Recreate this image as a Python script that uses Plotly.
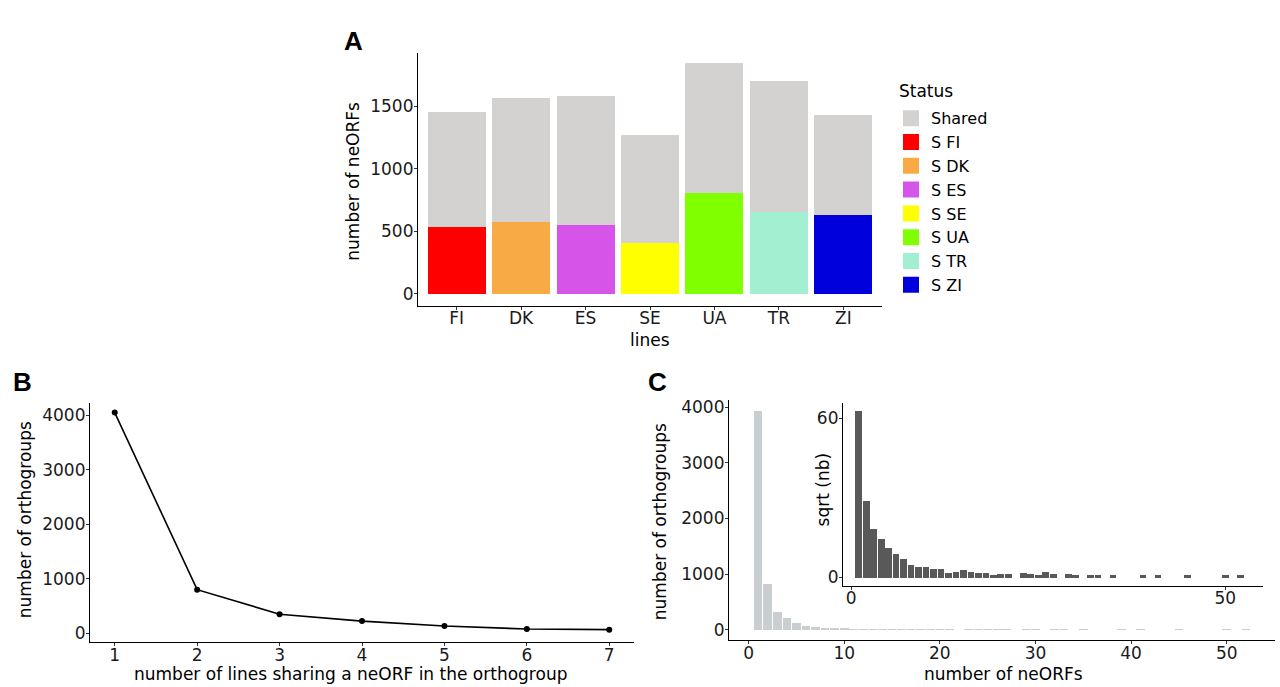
import plotly.graph_objects as go

# ---------------- data ----------------
# Panel A
lines = ["FI", "DK", "ES", "SE", "UA", "TR", "ZI"]
specific = [532, 577, 555, 405, 806, 657, 628]
shared = [925, 992, 1025, 864, 1038, 1045, 806]
status_labels = ["Shared", "S FI", "S DK", "S ES", "S SE", "S UA", "S TR", "S ZI"]
status_colors = ["#d3d2d0", "#ff0000", "#f8ab45", "#d654e8", "#ffff00",
                 "#7fff00", "#a2f0d1", "#0000dc"]

# Panel B
n_lines_sharing = [1, 2, 3, 4, 5, 6, 7]
n_orthogroups = [4045, 800, 350, 224, 133, 79, 67]

# Panel C
n_neorfs = list(range(1, 53))
n_groups = [3930, 830, 328, 215, 120, 76, 48, 23, 16, 15,
            10, 10, 3, 5, 7, 5, 3, 3, 1, 2,
            2, 0, 3, 2, 1, 4, 2, 0, 2, 1,
            0, 1, 1, 0, 1, 0, 0, 0, 1, 0,
            1, 0, 0, 0, 1, 0, 0, 0, 0, 1,
            0, 1]
sqrt_groups = [v ** 0.5 for v in n_groups]

W, H = 1280, 687
FONT = "DejaVu Sans"
TICKC = "#1a1a1a"


def px_x(x):
    return x / W


def px_y(y):
    return 1 - y / H


fig = go.Figure()

# ---- Panel A: stacked bars ----
for i, ln in enumerate(lines):
    fig.add_trace(go.Bar(x=[ln], y=[specific[i]], marker_color=status_colors[i + 1],
                         marker_line_width=0, showlegend=False,
                         xaxis="x", yaxis="y", width=0.9))
fig.add_trace(go.Bar(x=lines, y=shared, marker_color=status_colors[0],
                     marker_line_width=0, showlegend=False,
                     xaxis="x", yaxis="y", width=0.9))
# legend entries
for k, (lab, col) in enumerate(zip(status_labels, status_colors)):
    fig.add_trace(go.Scatter(x=[None], y=[None], mode="markers", name=lab,
                             marker=dict(symbol="square", size=16, color=col),
                             xaxis="x", yaxis="y", showlegend=True, legendrank=k + 1))

# ---- Panel B: line ----
fig.add_trace(go.Scatter(x=n_lines_sharing, y=n_orthogroups, mode="lines+markers",
                         line=dict(color="black", width=1.6),
                         marker=dict(color="black", size=6),
                         showlegend=False, xaxis="x2", yaxis="y2"))

# ---- Panel C: histogram ----
fig.add_trace(go.Bar(x=n_neorfs, y=n_groups, marker_color="#c9cfd1",
                     marker_line_width=0, width=0.9, showlegend=False,
                     xaxis="x3", yaxis="y3"))
# ---- Panel C inset ----
fig.add_trace(go.Bar(x=n_neorfs, y=sqrt_groups, marker_color="#595959",
                     marker_line_width=0, width=0.9, showlegend=False,
                     xaxis="x4", yaxis="y4"))

axis_common = dict(showline=True, linecolor="black", linewidth=1.2,
                   ticks="outside", ticklen=3, tickcolor="#333333", tickwidth=1.1,
                   showgrid=False, zeroline=False,
                   tickfont=dict(family=FONT, size=17, color=TICKC))
xax = dict(ticklabelstandoff=-6, **axis_common)
yax = dict(ticklabelstandoff=-3, **axis_common)

fig.update_layout(
    width=W, height=H,
    margin=dict(l=0, r=0, t=0, b=0),
    paper_bgcolor="white", plot_bgcolor="rgba(0,0,0,0)",
    barmode="stack",
    font=dict(family=FONT, size=17, color="black"),
    xaxis=dict(domain=[px_x(418), px_x(882)], anchor="y", type="category",
               range=[-0.6, 6.6], **xax),
    yaxis=dict(domain=[px_y(305), px_y(50)], anchor="x", range=[-95, 1930],
               tickvals=[0, 500, 1000, 1500], **yax),
    xaxis2=dict(domain=[px_x(90), px_x(634)], anchor="y2", range=[0.7, 7.3],
                tickvals=n_lines_sharing, **xax),
    yaxis2=dict(domain=[px_y(644), px_y(403)], anchor="x2", range=[-165, 4220],
                tickvals=[0, 1000, 2000, 3000, 4000], **yax),
    xaxis3=dict(domain=[px_x(729), px_x(1275)], anchor="y3", range=[-2.05, 55.05],
                tickvals=[0, 10, 20, 30, 40, 50], **xax),
    yaxis3=dict(domain=[px_y(642), px_y(400)], anchor="x3", range=[-190, 4130],
                tickvals=[0, 1000, 2000, 3000, 4000], **yax),
    xaxis4=dict(domain=[px_x(843), px_x(1263)], anchor="y4", range=[-1.1, 55.05],
                tickvals=[0, 50], **xax),
    yaxis4=dict(domain=[px_y(587), px_y(403)], anchor="x4", range=[-3.1, 65.8],
                tickvals=[0, 60], **yax),
    legend=dict(x=px_x(891), y=px_y(99), xanchor="left", yanchor="top",
                traceorder="normal",
                font=dict(family=FONT, size=16, color="black"),
                bgcolor="rgba(0,0,0,0)", tracegroupgap=0),
)

ann = []
# panel letters
for txt, x, y in [("A", 353, 38), ("B", 22, 382), ("C", 657, 382)]:
    ann.append(dict(text="<b>%s</b>" % txt, x=px_x(x), y=px_y(y), xref="paper", yref="paper",
                    showarrow=False, font=dict(family="Liberation Sans", size=26, color="black"),
                    xanchor="center", yanchor="middle"))
# legend title
ann.append(dict(text="Status", x=px_x(897), y=px_y(89), xref="paper", yref="paper",
                showarrow=False, font=dict(family=FONT, size=17, color="black"),
                xanchor="left", yanchor="middle"))
# axis titles
titles = [
    ("number of neORFs", 353, 180, -90),
    ("lines", 650, 339, 0),
    ("number of orthogroups", 25, 521, -90),
    ("number of lines sharing a neORF in the orthogroup", 350, 676, 0),
    ("number of orthogroups", 660, 523, -90),
    ("number of neORFs", 1003, 676, 0),
    ("sqrt (nb)", 823, 490, -90),
]
for txt, x, y, ang in titles:
    ann.append(dict(text=txt, x=px_x(x), y=px_y(y), xref="paper", yref="paper",
                    showarrow=False, textangle=ang,
                    font=dict(family=FONT, size=17, color="black"),
                    xanchor="center", yanchor="middle"))
fig.update_layout(annotations=ann)

fig.write_html("out.html")
